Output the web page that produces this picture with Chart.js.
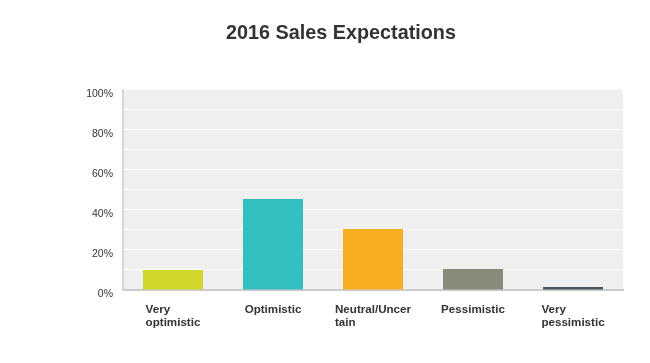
<!DOCTYPE html>
<html>
<head>
<meta charset="utf-8">
<script src="https://cdn.jsdelivr.net/npm/chart.js@4/dist/chart.umd.min.js"></script>
<style>
html,body{margin:0;padding:0;background:#fff;}
#wrap{width:650px;height:363px;position:relative;}
</style>
</head>
<body>
<div id="wrap"><canvas id="c"></canvas></div>
<script>
const categories = [["Very","optimistic"],["Optimistic"],["Neutral/Uncer","tain"],["Pessimistic"],["Very","pessimistic"]];
const values = [10, 45.5, 30.5, 10.5, 1.5];
const barColors = ["#d0d62a","#33bec0","#f7af21","#8a8a7a","#48575d"];
const yTickValues = [0, 20, 40, 60, 80, 100];
const titleText = "2016 Sales Expectations";

const plotBg = {
  id: 'plotBg',
  beforeDraw(chart) {
    const {ctx, chartArea: a} = chart;
    ctx.save();
    ctx.fillStyle = '#efefef';
    ctx.fillRect(a.left, a.top, a.right - a.left, a.bottom - a.top);
    ctx.restore();
  }
};

const xLabels = {
  id: 'xLabels',
  afterDraw(chart) {
    const {ctx, chartArea: a} = chart;
    const xs = chart.scales.x;
    ctx.save();
    ctx.font = 'bold 11.6px "Liberation Sans", Arial, sans-serif';
    ctx.fillStyle = '#333333';
    ctx.textAlign = 'left';
    ctx.textBaseline = 'middle';
    categories.forEach((lines, i) => {
      const cx = xs.getPixelForTick(i);
      const w = Math.max(...lines.map(l => ctx.measureText(l).width));
      lines.forEach((l, j) => ctx.fillText(l, cx - w / 2, a.bottom + 19.5 + 13 * j));
    });
    ctx.restore();
  }
};

new Chart(document.getElementById('c'), {
  type: 'bar',
  data: {
    labels: categories.map(l => l.join(' ')),
    datasets: [{ data: values, backgroundColor: barColors, barPercentage: 0.6, categoryPercentage: 1.0 }]
  },
  options: {
    responsive: true,
    maintainAspectRatio: false,
    animation: false,
    layout: { padding: { left: 59, right: 27, top: 0, bottom: 0 } },
    plugins: {
      legend: { display: false },
      tooltip: { enabled: false },
      title: {
        display: true,
        text: titleText,
        color: '#333333',
        font: { family: '"Liberation Sans", Arial, sans-serif', size: 19.8, weight: 'bold' },
        padding: { top: 22, bottom: 44 }
      }
    },
    scales: {
      x: {
        grid: { display: false },
        border: { color: '#cccccc', width: 2 },
        ticks: { display: false },
        afterFit(s) { s.height = 73; }
      },
      y: {
        min: 0, max: 100,
        afterFit(s) { s.width = 64; },
        afterBuildTicks(s) {
          const t = [];
          for (let v = 0; v <= 100; v += 10) t.push({ value: v });
          s.ticks = t;
        },
        grid: {
          drawTicks: false,
          color: c => (c.tick && (c.tick.value === 0 || c.tick.value === 100)) ? 'rgba(0,0,0,0)' : '#ffffff',
          lineWidth: 1
        },
        border: { color: '#d6d6d6', width: 2 },
        ticks: {
          padding: 10,
          labelOffset: 4,
          color: '#333333',
          font: { family: '"Liberation Sans", Arial, sans-serif', size: 10.5 },
          autoSkip: false,
          callback: v => yTickValues.includes(v) ? v + '%' : ''
        }
      }
    }
  },
  plugins: [plotBg, xLabels]
});
</script>
</body>
</html>
